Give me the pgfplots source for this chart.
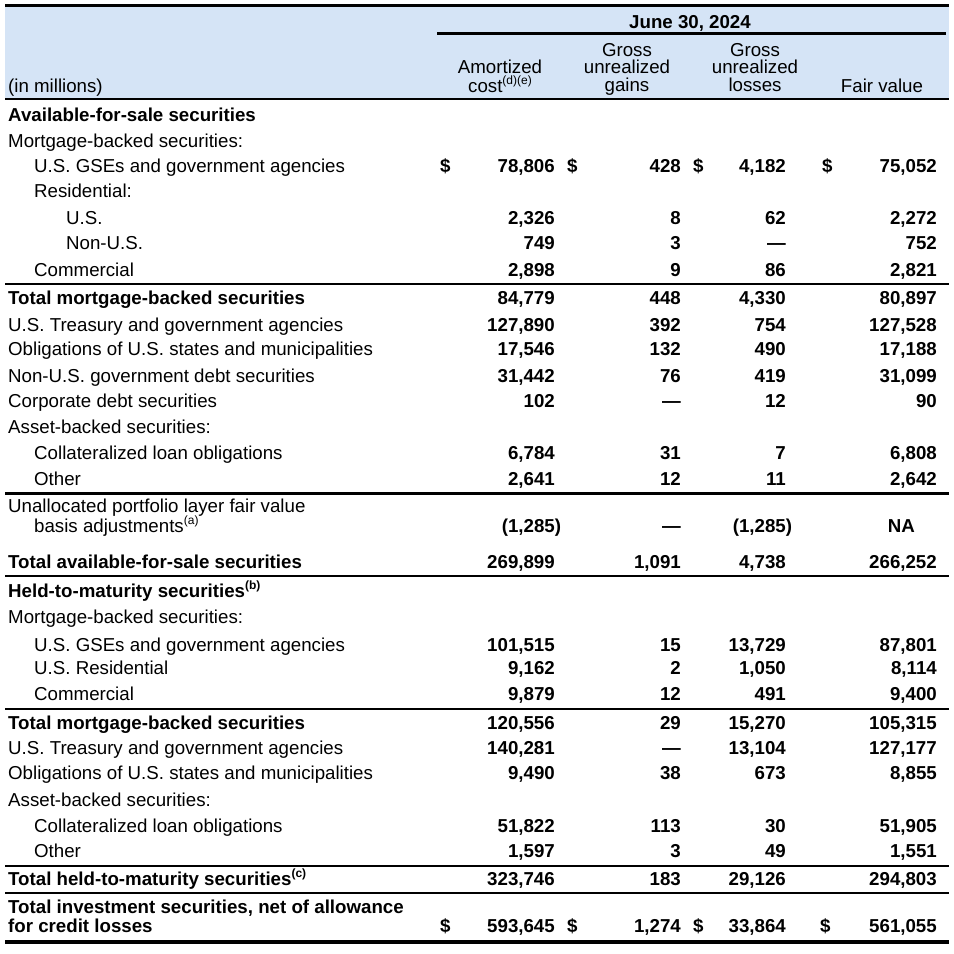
\documentclass[border=0pt]{standalone}
\usepackage{pgfplots}
\pgfplotsset{compat=1.18}
\usepackage{fontspec}
\setmainfont{Liberation Sans}
\definecolor{hdr}{RGB}{213,228,246}
\newcommand\sups[1]{\smash{\raisebox{0.4em}{\fontsize{12pt}{12pt}\selectfont #1}}}
\tikzset{lbl/.style={inner sep=0pt, anchor=base west}, hd/.style={inner sep=0pt, anchor=base}}
\begin{document}
\fontsize{18.7pt}{22pt}\selectfont
\begin{tikzpicture}
\begin{axis}[
  width=954pt, height=954pt, scale only axis,
  xmin=0, xmax=954, ymin=0, ymax=954, y dir=reverse,
  hide axis, clip=false,
  point meta=explicit symbolic,
  nodes near coords,
  every node near coord/.append style={inner sep=0pt, font=\bfseries, anchor=base east},
]
\path (axis cs:0,0) rectangle (axis cs:954,954);
% header background and rules
\fill[hdr] (axis cs:5,7) rectangle (axis cs:949,98);
\draw[line width=3.3pt] (axis cs:5,5.5) -- (axis cs:949,5.5);
\draw[line width=3.3pt] (axis cs:437,33.5) -- (axis cs:946,33.5);
\draw[line width=2.3pt] (axis cs:5,99) -- (axis cs:949,99);
\draw[line width=2pt] (axis cs:5,284) -- (axis cs:949,284);
\draw[line width=3.3pt] (axis cs:5,493.5) -- (axis cs:949,493.5);
\draw[line width=2pt] (axis cs:5,576) -- (axis cs:949,576);
\draw[line width=2.3pt] (axis cs:5,709) -- (axis cs:949,709);
\draw[line width=2.3pt] (axis cs:5,866) -- (axis cs:949,866);
\draw[line width=2.3pt] (axis cs:5,893.3) -- (axis cs:949,893.3);
\draw[line width=4pt] (axis cs:5,942) -- (axis cs:949,942);
% header text
\node[lbl] at (axis cs:8,92) {(in millions)};
\node[hd,font=\bfseries] at (axis cs:690,28) {June 30, 2024};
\node[hd] at (axis cs:500,73) {Amortized};
\node[hd] at (axis cs:500,92) {cost\sups{(d)(e)}};
\node[hd] at (axis cs:627,56) {Gross};
\node[hd] at (axis cs:627,73) {unrealized};
\node[hd] at (axis cs:627,91) {gains};
\node[hd] at (axis cs:755,56) {Gross};
\node[hd] at (axis cs:755,73) {unrealized};
\node[hd] at (axis cs:755,91) {losses};
\node[hd] at (axis cs:882,92) {Fair value};
% row labels
\node[lbl,font=\bfseries] at (axis cs:8,121) {Available-for-sale securities};
\node[lbl] at (axis cs:8,147) {Mortgage-backed securities:};
\node[lbl] at (axis cs:34,172) {U.S. GSEs and government agencies};
\node[lbl] at (axis cs:34,197) {Residential:};
\node[lbl] at (axis cs:66,224) {U.S.};
\node[lbl] at (axis cs:66,249) {Non-U.S.};
\node[lbl] at (axis cs:34,276) {Commercial};
\node[lbl,font=\bfseries] at (axis cs:8,304) {Total mortgage-backed securities};
\node[lbl] at (axis cs:8,331) {U.S. Treasury and government agencies};
\node[lbl] at (axis cs:8,355) {Obligations of U.S. states and municipalities};
\node[lbl] at (axis cs:8,382) {Non-U.S. government debt securities};
\node[lbl] at (axis cs:8,407) {Corporate debt securities};
\node[lbl] at (axis cs:8,433) {Asset-backed securities:};
\node[lbl] at (axis cs:34,459) {Collateralized loan obligations};
\node[lbl] at (axis cs:34,485) {Other};
\node[lbl] at (axis cs:8,512) {Unallocated portfolio layer fair value};
\node[lbl] at (axis cs:34,532) {basis adjustments\sups{(a)}};
\node[lbl,font=\bfseries] at (axis cs:8,568) {Total available-for-sale securities};
\node[lbl,font=\bfseries] at (axis cs:8,597) {Held-to-maturity securities\sups{(b)}};
\node[lbl] at (axis cs:8,623) {Mortgage-backed securities:};
\node[lbl] at (axis cs:34,651) {U.S. GSEs and government agencies};
\node[lbl] at (axis cs:34,674) {U.S. Residential};
\node[lbl] at (axis cs:34,700) {Commercial};
\node[lbl,font=\bfseries] at (axis cs:8,729) {Total mortgage-backed securities};
\node[lbl] at (axis cs:8,754) {U.S. Treasury and government agencies};
\node[lbl] at (axis cs:8,779) {Obligations of U.S. states and municipalities};
\node[lbl] at (axis cs:8,806) {Asset-backed securities:};
\node[lbl] at (axis cs:34,832) {Collateralized loan obligations};
\node[lbl] at (axis cs:34,857) {Other};
\node[lbl,font=\bfseries] at (axis cs:8,885) {Total held-to-maturity securities\sups{(c)}};
\node[lbl,font=\bfseries] at (axis cs:8,913) {Total investment securities, net of allowance};
\node[lbl,font=\bfseries] at (axis cs:8,932) {for credit losses};
% dollar signs
\addplot[draw=none, mark=none, every node near coord/.append style={anchor=base west}] coordinates {
(440,172)[\$] (567,172)[\$] (693,172)[\$] (822,172)[\$]
(440,932)[\$] (567,932)[\$] (693,932)[\$] (820,932)[\$]
};
% Amortized cost
\addplot[draw=none, mark=none] coordinates {
(555,172)[78,806] (555,224)[2,326] (555,249)[749] (555,276)[2,898]
(555,304)[84,779] (555,331)[127,890] (555,355)[17,546] (555,382)[31,442]
(555,407)[102] (555,459)[6,784] (555,485)[2,641] (555,532)[(1,285\rlap{)}]
(555,568)[269,899] (555,651)[101,515] (555,674)[9,162] (555,700)[9,879]
(555,729)[120,556] (555,754)[140,281] (555,779)[9,490] (555,832)[51,822]
(555,857)[1,597] (555,885)[323,746] (555,932)[593,645]
};
% Gross unrealized gains
\addplot[draw=none, mark=none] coordinates {
(681,172)[428] (681,224)[8] (681,249)[3] (681,276)[9]
(681,304)[448] (681,331)[392] (681,355)[132] (681,382)[76]
(681,407)[---] (681,459)[31] (681,485)[12] (681,532)[---]
(681,568)[1,091] (681,651)[15] (681,674)[2] (681,700)[12]
(681,729)[29] (681,754)[---] (681,779)[38] (681,832)[113]
(681,857)[3] (681,885)[183] (681,932)[1,274]
};
% Gross unrealized losses
\addplot[draw=none, mark=none] coordinates {
(786,172)[4,182] (786,224)[62] (786,249)[---] (786,276)[86]
(786,304)[4,330] (786,331)[754] (786,355)[490] (786,382)[419]
(786,407)[12] (786,459)[7] (786,485)[11] (786,532)[(1,285\rlap{)}]
(786,568)[4,738] (786,651)[13,729] (786,674)[1,050] (786,700)[491]
(786,729)[15,270] (786,754)[13,104] (786,779)[673] (786,832)[30]
(786,857)[49] (786,885)[29,126] (786,932)[33,864]
};
% Fair value
\addplot[draw=none, mark=none] coordinates {
(937,172)[75,052] (937,224)[2,272] (937,249)[752] (937,276)[2,821]
(937,304)[80,897] (937,331)[127,528] (937,355)[17,188] (937,382)[31,099]
(937,407)[90] (937,459)[6,808] (937,485)[2,642] (915,532)[NA]
(937,568)[266,252] (937,651)[87,801] (937,674)[8,114] (937,700)[9,400]
(937,729)[105,315] (937,754)[127,177] (937,779)[8,855] (937,832)[51,905]
(937,857)[1,551] (937,885)[294,803] (937,932)[561,055]
};
\end{axis}
\end{tikzpicture}
\end{document}
